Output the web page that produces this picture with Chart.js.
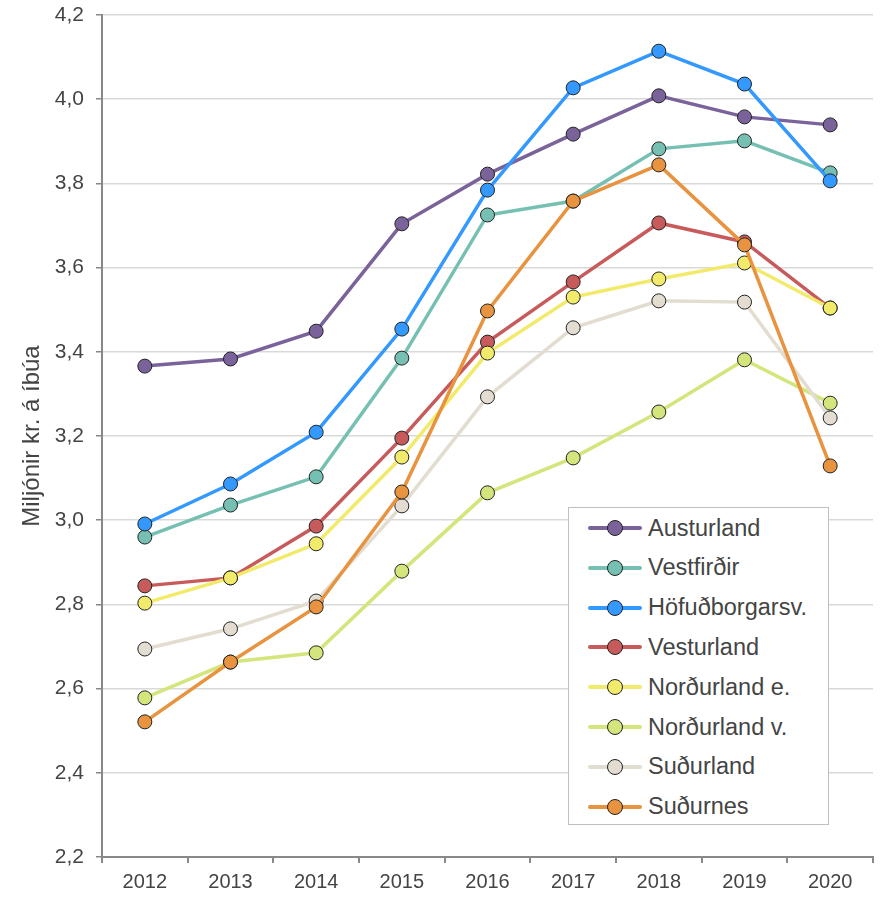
<!DOCTYPE html>
<html>
<head>
<meta charset="utf-8">
<script src="https://cdn.jsdelivr.net/npm/chart.js@4.4.1/dist/chart.umd.min.js"></script>
<style>
  body { margin: 0; background: #fff; }
  #wrap { position: relative; width: 881px; height: 899px; }
  #legend {
    position: absolute; left: 568px; top: 507px; width: 259px; height: 316px;
    border: 1.5px solid #c0c0c0; background: #fff; box-sizing: content-box;
    font-family: "Liberation Sans", Arial, sans-serif; font-size: 23.5px; color: #444;
  }
  .row { position: absolute; left: 0; height: 30px; display: flex; align-items: center; }
  .sample { position: relative; width: 54px; height: 30px; margin-left: 19px; margin-right: 6px; }
  .sample .ln { position: absolute; left: 0; right: 0; top: 13px; height: 4px; border-radius: 2px; }
  .sample .pt { position: absolute; left: 19px; top: 7px; width: 14px; height: 14px; border-radius: 50%; border: 1px solid #222; }
</style>
</head>
<body>
<div id="wrap">
  <canvas id="c" width="881" height="899"></canvas>
  <div id="legend"></div>
</div>
<script>
const years = ["2012","2013","2014","2015","2016","2017","2018","2019","2020"];
const regions = ["Austurland","Vestfirðir","Höfuðborgarsv.","Vesturland","Norðurland e.","Norðurland v.","Suðurland","Suðurnes"];
const colors = ["#7a629a","#76c0b3","#3399ff","#c75b5b","#f2ea6a","#d3e57b","#e2ddd0","#e8933f"];

const austurland   = [3.366,3.383,3.449,3.704,3.822,3.917,4.008,3.958,3.939];
const vestfirdir   = [2.960,3.036,3.103,3.385,3.725,3.758,3.882,3.901,3.825];
const hofudborg    = [2.991,3.086,3.209,3.454,3.784,4.027,4.114,4.036,3.806];
const vesturland   = [2.844,2.863,2.986,3.195,3.423,3.566,3.706,3.661,3.504];
const nordurlandE  = [2.803,2.863,2.944,3.150,3.397,3.530,3.573,3.611,3.504];
const nordurlandV  = [2.578,2.663,2.685,2.879,3.065,3.148,3.257,3.381,3.278];
const sudurland    = [2.694,2.742,2.808,3.034,3.293,3.457,3.521,3.518,3.243];
const sudurnes     = [2.521,2.663,2.794,3.067,3.497,3.758,3.844,3.654,3.129];

const series = [austurland,vestfirdir,hofudborg,vesturland,nordurlandE,nordurlandV,sudurland,sudurnes];

const textColor = "#444";
const fontFam = "'Liberation Sans', Arial, sans-serif";

const datasets = series.map((d, i) => ({
  label: regions[i],
  data: d,
  borderColor: colors[i],
  backgroundColor: colors[i],
  borderWidth: 3.5,
  pointRadius: 7,
  pointHoverRadius: 7,
  pointBorderColor: "#222",
  pointBorderWidth: 1,
  pointBackgroundColor: colors[i],
  tension: 0,
  order: series.length - i
}));

new Chart(document.getElementById("c"), {
  type: "line",
  data: { labels: years, datasets: datasets },
  options: {
    responsive: false,
    animation: false,
    layout: { padding: { top: 15, right: 5, left: 0, bottom: 0 } },
    plugins: { legend: { display: false }, tooltip: { enabled: false } },
    scales: {
      x: {
        offset: true,
        grid: { display: true, drawOnChartArea: false, drawTicks: true, tickLength: 6, tickColor: "#888", lineWidth: 2, offset: true },
        border: { color: "#888", width: 2 },
        ticks: { color: textColor, font: { family: fontFam, size: 20 }, padding: 7, maxRotation: 0 },
        afterFit: s => { s.height = 42; s.paddingRight = 0; s.paddingLeft = 0; }
      },
      y: {
        min: 2.2, max: 4.2,
        grid: { color: "#d9d9d9", lineWidth: 1.5, tickLength: 6, tickColor: "#888", drawTicks: true },
        border: { color: "#888", width: 2 },
        ticks: {
          stepSize: 0.2, color: textColor, padding: 12,
          font: { family: fontFam, size: 21 },
          callback: v => v.toFixed(1).replace(".", ",")
        },
        title: {
          display: true, text: "Miljónir kr. á íbúa", color: textColor,
          font: { family: fontFam, size: 24 }, padding: { top: 18, bottom: 0 }
        },
        afterFit: s => { s.width = 102; s.paddingTop = 0; s.paddingBottom = 0; }
      }
    }
  }
});

// legend built from the same arrays
const leg = document.getElementById("legend");
regions.forEach((name, i) => {
  const row = document.createElement("div");
  row.className = "row";
  row.style.top = (5 + i * 39.8) + "px";
  row.innerHTML = '<div class="sample"><div class="ln" style="background:' + colors[i] + '"></div>' +
    '<div class="pt" style="background:' + colors[i] + '"></div></div><span>' + name + '</span>';
  leg.appendChild(row);
});
</script>
</body>
</html>
